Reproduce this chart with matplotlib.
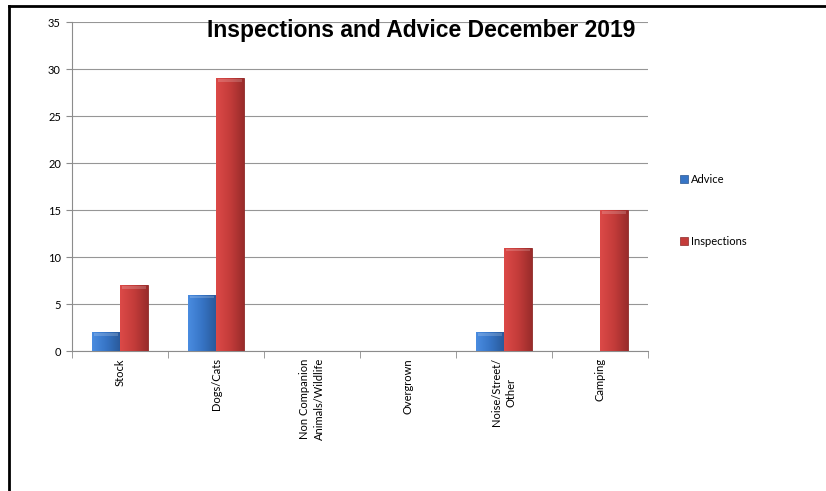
import numpy as np
import matplotlib
matplotlib.use("Agg")
import matplotlib.pyplot as plt
from matplotlib.colors import LinearSegmentedColormap
from matplotlib.patches import Patch

categories = ["Stock", "Dogs/Cats", "Non Companion\nAnimals/Wildlife",
              "Overgrown", "Noise/Street/\nOther", "Camping"]
advice = [2, 6, 0, 0, 2, 0]
inspections = [7, 29, 0, 0, 11, 15]
yticks = [0, 5, 10, 15, 20, 25, 30, 35]

plt.rcParams['font.family'] = ['Lato', 'DejaVu Sans']

fig = plt.figure(figsize=(8.26, 4.91), dpi=100)
fig.patch.set_facecolor('white')
ax = fig.add_axes([0.0872, 0.285, 0.6973, 0.670])

x = np.arange(len(categories))
w = 0.287
blue_map = LinearSegmentedColormap.from_list("b", ["#4a8ce0", "#3775c6", "#2a5a9c"])
red_map = LinearSegmentedColormap.from_list("r", ["#dc4a48", "#c43c3a", "#9a2c2b"])

def shaded_bars(xpos, vals, cmap, edge):
    bars = ax.bar(xpos, vals, w, color=cmap(0.5), edgecolor=edge, linewidth=0.6, zorder=3)
    grad = np.linspace(0, 1, 64).reshape(1, -1)
    for b in bars:
        if b.get_height() <= 0:
            b.set_visible(False)
            continue
        x0, y0 = b.get_x(), b.get_y()
        im = ax.imshow(grad, cmap=cmap, aspect='auto', zorder=3.5,
                       extent=(x0, x0 + b.get_width(), y0, y0 + b.get_height()))
        im.set_clip_path(b)
        # soft highlight at the top
        ax.bar(x0 + b.get_width() / 2, 0.3, b.get_width() * 0.86,
               bottom=b.get_height() - 0.4, color='white', alpha=0.18,
               linewidth=0, zorder=4)
    return bars

shaded_bars(x - w / 2, advice, blue_map, "#2a5590")
shaded_bars(x + w / 2, inspections, red_map, "#8c2a28")

ax.set_xlim(-0.5, len(categories) - 0.5)
ax.set_ylim(0, 35)
ax.set_yticks(yticks)
ax.set_yticklabels([str(v) for v in yticks], fontsize=8)
ax.yaxis.grid(True, color="#969696", linewidth=0.8, zorder=0)
ax.set_axisbelow(True)

ax.set_xticks(x)
ax.set_xticklabels(categories, rotation=90, fontsize=8, va='top',
                   ha='center', multialignment='center', linespacing=1.35)
ax.tick_params(axis='x', length=0, pad=5)
ax.set_xticks(np.arange(len(categories) + 1) - 0.5, minor=True)
ax.tick_params(axis='x', which='minor', length=5, color="#8c8c8c", direction='out')
ax.tick_params(axis='y', length=4, color="#8c8c8c", pad=4)

for s in ['top', 'right']:
    ax.spines[s].set_visible(False)
for s in ['left', 'bottom']:
    ax.spines[s].set_color("#8c8c8c")
    ax.spines[s].set_linewidth(0.8)
ax.set_facecolor('none')

fig.text(0.51, 0.938, "Inspections and Advice December 2019", ha='center',
         va='center', fontsize=16.5, fontweight='bold', family='Liberation Sans')

handles = [Patch(facecolor="#3775c6", edgecolor="#2a5590", linewidth=0.5),
           Patch(facecolor="#c43c3a", edgecolor="#8c2a28", linewidth=0.5)]
fig.legend(handles, ["Advice", "Inspections"], loc='upper left',
           bbox_to_anchor=(0.818, 0.655), frameon=False, fontsize=8,
           handlelength=0.7, handleheight=0.7, handletextpad=0.3,
           labelspacing=4.6, borderaxespad=0)

# black border on the left and top, as in the source screenshot
fig.add_artist(plt.Line2D([0.0109, 0.0109], [0, 0.988], transform=fig.transFigure,
                          color='black', linewidth=2))
fig.add_artist(plt.Line2D([0.0109, 1.0], [0.988, 0.988], transform=fig.transFigure,
                          color='black', linewidth=2))

fig.savefig("out.png", dpi=100)
